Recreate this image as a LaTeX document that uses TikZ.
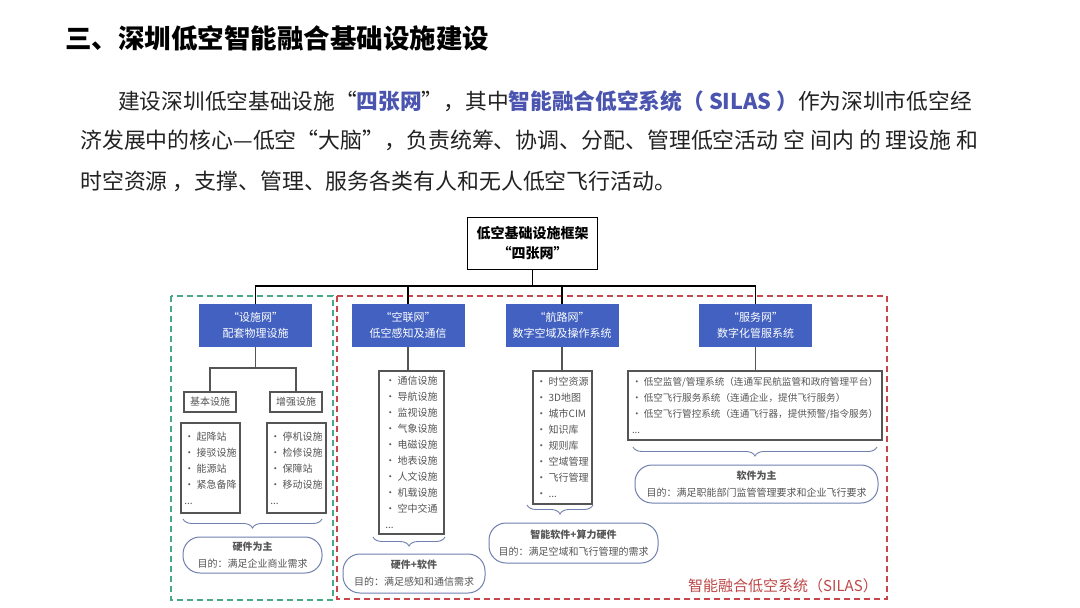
\documentclass[tikz,border=0pt]{standalone}
\usepackage{fontspec}
\setmainfont{Noto Sans CJK SC}
\usetikzlibrary{decorations.pathreplacing}
\definecolor{netblue}{RGB}{66,97,192}
\definecolor{goalblue}{RGB}{112,128,176}
\definecolor{hlblue}{RGB}{75,85,175}
\definecolor{bodygray}{RGB}{34,34,34}
\definecolor{framegreen}{RGB}{72,170,130}
\definecolor{framered}{RGB}{200,70,75}
\definecolor{labelred}{RGB}{190,72,72}
\definecolor{linegray}{RGB}{85,85,85}
\begin{document}
\begin{tikzpicture}[x=1pt,y=-1pt,
  netbox/.style={fill=netblue, text=white, minimum width=113pt, minimum height=43pt, inner sep=0pt, align=center, font=\fontsize{11}{16}\selectfont},
  topbox/.style={draw=black, line width=1.8pt, minimum width=130pt, minimum height=52pt, inner sep=0pt, align=center, font=\bfseries\fontsize{14}{20}\selectfont},
  subbox/.style={draw=linegray, line width=1.1pt, minimum width=52pt, minimum height=20pt, inner sep=0pt, font=\fontsize{10}{12}\selectfont, text=linegray},
  listbox/.style={draw=linegray, line width=1.2pt, inner sep=0pt, align=left, font=\fontsize{10}{16}\selectfont, text=linegray},
  goalbox/.style={draw=goalblue, line width=1pt, rounded corners=17pt, inner sep=0pt, align=center, font=\fontsize{10}{17}\selectfont, text=linegray},
  bracestyle/.style={draw=goalblue, line width=0.9pt, decorate, decoration={brace, mirror, amplitude=9pt}},
  tree/.style={draw=black, line width=1.8pt},
  link/.style={draw=linegray, line width=1.1pt},
  gframe/.style={draw=framegreen, line width=1.4pt, dash pattern=on 6pt off 4pt},
  rframe/.style={draw=framered, line width=1.4pt, dash pattern=on 6pt off 4pt}]
\useasboundingbox (0,0) rectangle (1080,608);
\fill[white] (0,0) rectangle (1080,608);

% heading and paragraph
\node[anchor=base west, inner sep=0pt, font=\bfseries\fontsize{26.5}{30}\selectfont, text=black] (title) at (65,48) {三、深圳低空智能融合基础设施建设};
\node[anchor=base west, inner sep=0pt, font=\fontsize{21.7}{26}\selectfont, text=bodygray] (p1) at (118,109) {建设深圳低空基础设施“\textcolor{hlblue}{\bfseries 四张网}”，其中\textcolor{hlblue}{\bfseries 智能融合低空系统（ SILAS ）}作为深圳市低空经};
\node[anchor=base west, inner sep=0pt, font=\fontsize{21.9}{26}\selectfont, text=bodygray] (p2) at (80,148) {济发展中的核心—低空“大脑”，负责统筹、协调、分配、管理低空活动 空 间内 的 理设施 和};
\node[anchor=base west, inner sep=0pt, font=\fontsize{21.9}{26}\selectfont, text=bodygray] (p3) at (80,189) {时空资源 ，支撑、管理、服务各类有人和无人低空飞行活动。};

% frames
\draw[gframe] (171,296) rectangle (333,600);
\draw[rframe] (337,296) rectangle (887,599);
\node[anchor=east, inner sep=0pt, font=\fontsize{15}{18}\selectfont, text=labelred] (silas) at (878,586) {智能融合低空系统（SILAS）};

% top and network boxes
\node[topbox] (top) at (532.5,243.5) {低空基础设施框架\\“四张网”};
\node[netbox] (n1) at (255.5,325.5) {“设施网”\\配套物理设施};
\node[netbox] (n2) at (408,325.5) {“空联网”\\低空感知及通信};
\node[netbox] (n3) at (562,325.5) {“航路网”\\数字空域及操作系统};
\node[netbox] (n4) at (755.5,325.5) {“服务网”\\数字化管服系统};

\coordinate (bus) at (0,286);
\draw[tree] (top.south) -- (top.south |- bus);
\draw[tree] (n1.north) -- (n1.north |- bus) -- (n4.north |- bus) -- (n4.north);
\draw[tree] (n2.north) -- (n2.north |- bus);
\draw[tree] (n3.north) -- (n3.north |- bus);

% facility network
\node[subbox] (s1) at (210,402) {基本设施};
\node[subbox] (s2) at (296,402) {增强设施};
\coordinate (br) at (255.5,368);
\draw[link] (n1.south) -- (br);
\draw[link] (s1.north) |- (br) -| (s2.north);

\node[listbox, minimum width=59pt, minimum height=90pt] (l1) at (210.5,468) {• 起降站\\• 接驳设施\\• 能源站\\• 紧急备降\\...};
\node[listbox, minimum width=59pt, minimum height=90pt] (l2) at (296.5,468) {• 停机设施\\• 检修设施\\• 保障站\\• 移动设施\\...};

\coordinate (b1l) at (183,519);
\coordinate (b1r) at (322,519);
\draw[bracestyle] (b1l) -- (b1r);
\node[goalbox, minimum width=139pt, minimum height=36pt] (g1) at (252.5,555) {\textbf{硬件为主}\\目的：满足企业商业需求};

% sensing network
\node[listbox, minimum width=65pt, minimum height=163pt] (l3) at (411.5,452.5) {• 通信设施\\• 导航设施\\• 监视设施\\• 气象设施\\• 电磁设施\\• 地表设施\\• 人文设施\\• 机载设施\\• 空中交通\\...};
\draw[link] (n2.south) -- (n2.south |- l3.north);
\coordinate (b2l) at (373,537);
\coordinate (b2r) at (445,537);
\draw[bracestyle] (b2l) -- (b2r);
\node[goalbox, minimum width=142pt, minimum height=39pt] (g2) at (414,573.5) {\textbf{硬件+软件}\\目的：满足感知和通信需求};

% route network
\node[listbox, minimum width=59pt, minimum height=133pt] (l4) at (562.5,437.5) {• 时空资源\\• 3D地图\\• 城市CIM\\• 知识库\\• 规则库\\• 空域管理\\• 飞行管理\\• ...};
\draw[link] (n3.south) -- (n3.south |- l4.north);
\coordinate (b3l) at (527,505);
\coordinate (b3r) at (593,505);
\draw[bracestyle] (b3l) -- (b3r);
\node[goalbox, minimum width=169pt, minimum height=40pt] (g3) at (573.5,543) {\textbf{智能软件+算力硬件}\\目的：满足空域和飞行管理的需求};

% service network
\node[listbox, minimum width=254pt, minimum height=69pt, font=\fontsize{9.6}{16}\selectfont] (l5) at (755,405.5) {• 低空监管/管理系统（连通军民航监管和政府管理平台）\\• 低空飞行服务系统（连通企业，提供飞行服务）\\• 低空飞行管控系统（连通飞行器，提供预警/指令服务）\\...};
\draw[link] (n4.south) -- (n4.south |- l5.north);
\coordinate (b4l) at (633,447);
\coordinate (b4r) at (877,447);
\draw[bracestyle] (b4l) -- (b4r);
\node[goalbox, minimum width=243pt, minimum height=38pt] (g4) at (756.5,484) {\textbf{软件为主}\\目的：满足职能部门监管管理要求和企业飞行要求};
\end{tikzpicture}
\end{document}
